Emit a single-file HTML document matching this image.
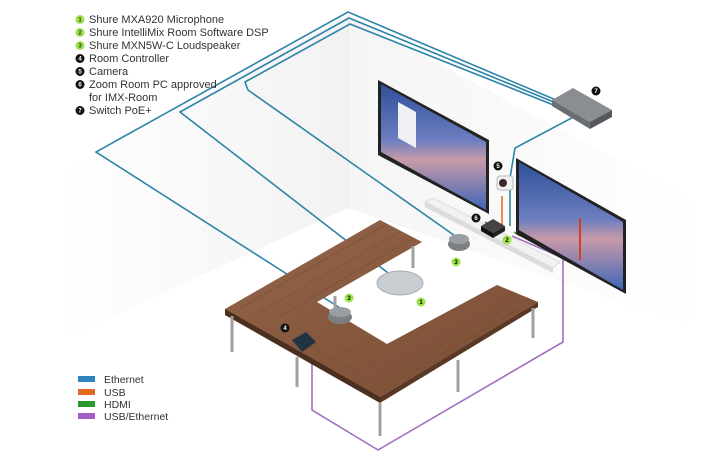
<!DOCTYPE html>
<html><head><meta charset="utf-8"><style>
html,body{margin:0;padding:0;background:#fff;}
svg{display:block;font-family:"Liberation Sans",sans-serif;}
</style></head><body>
<svg width="702" height="459" viewBox="0 0 702 459" xmlns="http://www.w3.org/2000/svg">
<defs>
<linearGradient id="lw" x1="0" y1="0" x2="1" y2="0"><stop offset="0" stop-color="#fff"/><stop offset="1" stop-color="#f2f2f2"/></linearGradient>
<linearGradient id="rw" x1="0" y1="0" x2="1" y2="0"><stop offset="0" stop-color="#f5f5f5"/><stop offset="1" stop-color="#fff"/></linearGradient>
<linearGradient id="scr" x1="0" y1="0" x2="0" y2="1"><stop offset="0" stop-color="#2e4f9a"/><stop offset=".45" stop-color="#6d7fc0"/><stop offset=".6" stop-color="#c89aa8"/><stop offset="1" stop-color="#3d66b8"/></linearGradient>
<linearGradient id="wood" x1="0" y1="0" x2="1" y2="1"><stop offset="0" stop-color="#95664a"/><stop offset=".5" stop-color="#86583e"/><stop offset="1" stop-color="#7a4e36"/></linearGradient>
</defs>
<polygon points="348,15 60,175 60,340 348,208" fill="url(#lw)"/>
<polygon points="348,15 702,205 702,330 348,208" fill="url(#rw)"/>
<line x1="348" y1="15" x2="348" y2="208" stroke="#e8e8e8"/>
<g fill="none" stroke="#2d84a8" stroke-width="1.6">
<path d="M556,100 L348,12 L96,152 L340,308"/>
<path d="M556,103 L349,18 L180,112 L392,276"/>
<path d="M556,106 L350,24 L245,82 L248,90 L458,238"/>
<path d="M583,112 L515,148 L510,178 M510,190 L510,226"/>
</g>
<g fill="none" stroke-width="1.6">
<path d="M502,196 L502,228" stroke="#e07030"/>
<path d="M498,228 L485,222 M514,232 L520,236" stroke="#3aa040"/>
<path d="M312,353 L312,410 L378,450 L563,342 L563,258 L512,236" stroke="#a070c0"/>
</g>
<polygon points="378,80 489,140 489,214 378,155" fill="#222"/>
<polygon points="381,84 486,142 486,210 381,152" fill="url(#scr)"/>
<polygon points="398,102 416,112 416,148 398,138" fill="#f0f0f4"/>
<polygon points="516,158 626,220 626,294 516,234" fill="#222"/>
<polygon points="519,162 623,222 623,290 519,230" fill="url(#scr)"/>
<line x1="580" y1="218" x2="580" y2="260" stroke="#d04020" stroke-width="2"/>
<polygon points="552,100 573,88 612,110 590,122" fill="#8a8d92"/>
<polygon points="552,100 590,122 590,129 552,106" fill="#6a6d72"/>
<polygon points="590,122 612,110 612,117 590,129" fill="#55585c"/>
<polygon points="425,202 433,198 560,262 553,268" fill="#f2f2f2" stroke="#ddd"/>
<polygon points="425,202 553,268 553,273 425,207" fill="#dcdcdc"/>
<rect x="497" y="176" width="16" height="14" rx="3" fill="#f0f0f0" stroke="#bbb"/>
<circle cx="503" cy="183" r="4" fill="#3a2a2a"/>
<polygon points="481,226 493,219 505,226 493,233" fill="#444"/>
<polygon points="481,226 493,233 493,238 481,231" fill="#111"/>
<polygon points="493,233 505,226 505,231 493,238" fill="#222"/>
<polygon points="225,309 380,220 422,242 317,302 387,344 497,285 538,302 380,397 225,315" fill="url(#wood)"/>
<g stroke="#6e4530" stroke-width="0.6" opacity="0.6">
<line x1="240" y1="308" x2="385" y2="225"/><line x1="260" y1="312" x2="400" y2="232"/><line x1="280" y1="316" x2="410" y2="240"/>
<line x1="300" y1="340" x2="360" y2="374"/><line x1="330" y1="340" x2="380" y2="370"/>
<line x1="400" y1="370" x2="510" y2="305"/><line x1="420" y1="372" x2="525" y2="310"/><line x1="390" y1="385" x2="520" y2="308"/>
</g>
<polygon points="225,309 380,397 380,403 225,315" fill="#4a2e1e"/>
<polygon points="380,397 538,302 538,307 380,403" fill="#5a3826"/>
<g stroke="#a0a0a0" stroke-width="3">
<line x1="232" y1="316" x2="232" y2="352"/><line x1="297" y1="357" x2="297" y2="387"/>
<line x1="380" y1="403" x2="380" y2="436"/><line x1="458" y1="360" x2="458" y2="392"/>
<line x1="533" y1="308" x2="533" y2="338"/><line x1="413" y1="246" x2="413" y2="268"/>
<line x1="335" y1="296" x2="335" y2="310"/>
</g>
<ellipse cx="400" cy="283" rx="23" ry="12" fill="#c8cdd2" stroke="#aab"/>
<ellipse cx="459" cy="244" rx="11" ry="7" fill="#7c8084"/><ellipse cx="459" cy="239" rx="10" ry="5" fill="#9a9ea2"/>
<ellipse cx="340" cy="317" rx="12" ry="7" fill="#7c8084"/><ellipse cx="340" cy="312" rx="11" ry="5" fill="#9a9ea2"/>
<polygon points="292,340 306,332 316,342 302,352" fill="#234"/>
<g font-size="6" font-weight="bold" text-anchor="middle">
<g fill="#9be24a"><circle cx="421" cy="302" r="4.5"/><circle cx="507" cy="240" r="4.5"/><circle cx="456" cy="262" r="4.5"/><circle cx="349" cy="298" r="4.5"/></g>
<text x="421" y="304">1</text><text x="507" y="242">2</text><text x="456" y="264">3</text><text x="349" y="300">3</text>
<g fill="#111"><circle cx="285" cy="328" r="4.5"/><circle cx="498" cy="166" r="4.5"/><circle cx="476" cy="218" r="4.5"/><circle cx="596" cy="91" r="4.5"/></g>
<g fill="#fff"><text x="285" y="330">4</text><text x="498" y="168">5</text><text x="476" y="220">6</text><text x="596" y="93">7</text></g>
</g>
<g font-size="11" fill="#333">
<g font-size="6" font-weight="bold" text-anchor="middle">
<g fill="#9be24a"><circle cx="80" cy="19.5" r="4.5"/><circle cx="80" cy="32.5" r="4.5"/><circle cx="80" cy="45.5" r="4.5"/></g>
<text x="80" y="21.5">1</text><text x="80" y="34.5">2</text><text x="80" y="47.5">3</text>
<g fill="#111"><circle cx="80" cy="58.5" r="4.5"/><circle cx="80" cy="71.5" r="4.5"/><circle cx="80" cy="84.5" r="4.5"/><circle cx="80" cy="110.5" r="4.5"/></g>
<g fill="#fff"><text x="80" y="60.5">4</text><text x="80" y="73.5">5</text><text x="80" y="86.5">6</text><text x="80" y="112.5">7</text></g>
</g>
<text x="89" y="23">Shure MXA920 Microphone</text>
<text x="89" y="36">Shure IntelliMix Room Software DSP</text>
<text x="89" y="49">Shure MXN5W-C Loudspeaker</text>
<text x="89" y="62">Room Controller</text>
<text x="89" y="75">Camera</text>
<text x="89" y="88">Zoom Room PC approved</text>
<text x="89" y="101">for IMX-Room</text>
<text x="89" y="114">Switch PoE+</text>
</g>
<g font-size="10.5" fill="#333">
<rect x="78" y="376" width="17" height="6" fill="#2d84c0"/><text x="104" y="383">Ethernet</text>
<rect x="78" y="389" width="17" height="6" fill="#e06a20"/><text x="104" y="396">USB</text>
<rect x="78" y="401" width="17" height="6" fill="#2a9a30"/><text x="104" y="408">HDMI</text>
<rect x="78" y="413" width="17" height="6" fill="#a060c8"/><text x="104" y="420">USB/Ethernet</text>
</g>
</svg>
</body></html>
